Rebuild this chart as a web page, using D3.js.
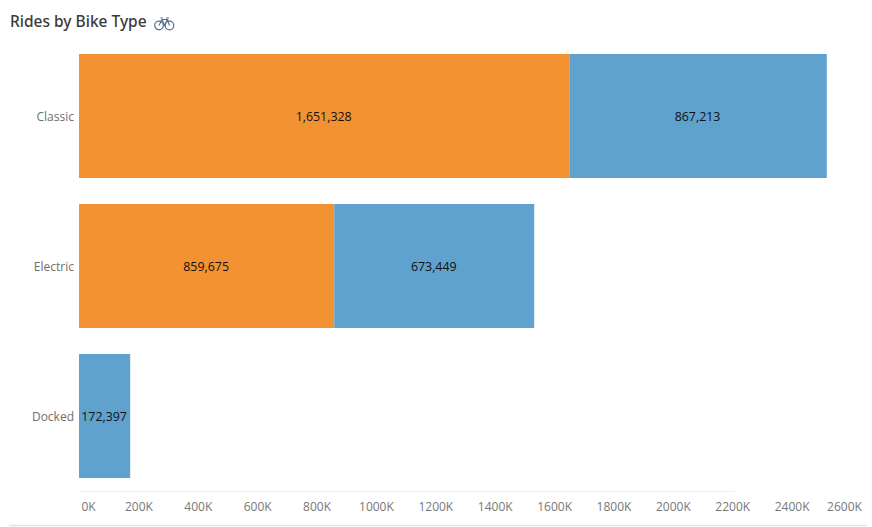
<!DOCTYPE html>
<html>
<head>
<meta charset="utf-8">
<script src="https://cdnjs.cloudflare.com/ajax/libs/d3/7.8.5/d3.min.js"></script>
<style>
  html, body { margin: 0; padding: 0; background: #fff; }
  text { font-family: "Open Sans", sans-serif; }
</style>
</head>
<body>
<script>
// values
var bikeTypes = ["Classic", "Electric", "Docked"];
var orangeRides = [1651328, 859675, 0];
var blueRides = [867213, 673449, 172397];
var xTicks = [0, 200000, 400000, 600000, 800000, 1000000, 1200000, 1400000, 1600000, 1800000, 2000000, 2200000, 2400000, 2600000];

var w = 872;
var h = 527;

var svg = d3.select("body").append("svg")
  .attr("width", w)
  .attr("height", h)
  .style("display", "block");

// 772px wide plot, 0 sits at x=79
var x = d3.scaleLinear().domain([0, 2600000]).range([79, 851]);
// bars are 124px tall, one every 150px
var y = d3.scaleBand().domain(bikeTypes).range([54, 478]).paddingInner(26 / 150).paddingOuter(0);

svg.append("text")
  .attr("x", 10)
  .attr("y", 27)
  .attr("font-size", 15.5)
  .attr("font-weight", 500)
  .attr("fill", "#3a3a3a")
  .style("font-family", "'Noto Sans', sans-serif")
  .text("Rides by Bike Type");

// bike icon next to the title
var bike = svg.append("g")
  .attr("transform", "translate(154, 17)")
  .attr("fill", "none")
  .attr("stroke", "#5b6f8f")
  .attr("stroke-width", 1.2);
bike.append("circle").attr("cx", 5).attr("cy", 8.5).attr("r", 4.3);
bike.append("circle").attr("cx", 15.5).attr("cy", 8.5).attr("r", 4.3);
bike.append("path").attr("d", "M5 8.5L8 2.5H13.5L15.5 8.5M8 2.5L10.5 8.5L13.5 2.5M6.5 1H9M12 1H15");

// bars
var rows = svg.append("g");
rows.selectAll("rect.orange")
  .data(bikeTypes)
  .enter()
  .append("rect")
  .attr("class", "orange")
  .attr("x", x(0))
  .attr("y", function(d) { return y(d); })
  .attr("width", function(d, i) { return x(orangeRides[i]) - x(0); })
  .attr("height", y.bandwidth())
  .attr("fill", "#f28e2b")
  .attr("fill-opacity", 0.97);

rows.selectAll("rect.blue")
  .data(bikeTypes)
  .enter()
  .append("rect")
  .attr("class", "blue")
  .attr("x", function(d, i) { return x(orangeRides[i]); })
  .attr("y", function(d) { return y(d); })
  .attr("width", function(d, i) { return x(blueRides[i]) - x(0); })
  .attr("height", y.bandwidth())
  .attr("fill", "#5fa2ce");

// value labels
var fmt = d3.format(",");
function barLabels(values, start) {
  rows.selectAll(null)
    .data(bikeTypes.filter(function(d, i) { return values[i] > 0; }))
    .enter()
    .append("text")
    .attr("x", function(d) {
      var i = bikeTypes.indexOf(d);
      return x(start[i] + values[i] / 2) - 0.5;
    })
    .attr("y", function(d) { return y(d) + y.bandwidth() / 2 + 4.5; })
    .attr("text-anchor", "middle")
    .attr("font-size", 12.4)
    .attr("fill", "#111")
    .text(function(d) { return fmt(values[bikeTypes.indexOf(d)]); });
}
barLabels(orangeRides, [0, 0, 0]);
barLabels(blueRides, orangeRides);

// category labels
var yAxis = svg.append("g")
  .attr("transform", "translate(79, 1)")
  .call(d3.axisLeft(y).tickSize(0).tickPadding(5));
yAxis.select(".domain").remove();
yAxis.selectAll("text")
  .attr("font-size", 12)
  .attr("fill", "#6e6e6e")
  .style("font-family", "'Open Sans', sans-serif");

// x axis, the two end labels get pushed inside the plot
var xAxis = svg.append("g")
  .attr("transform", "translate(0, 491)")
  .call(d3.axisBottom(x).tickValues(xTicks).tickSize(0).tickPadding(11)
    .tickFormat(function(d) { return (d / 1000) + "K"; }));
xAxis.select(".domain").remove();
xAxis.selectAll("text")
  .attr("font-size", 12)
  .attr("fill", "#777")
  .style("font-family", "'Open Sans', sans-serif")
  .attr("dx", function(d) {
    if (d === 0) return 9;
    if (d === 2600000) return -7;
    return 0;
  });

svg.append("line")
  .attr("x1", x(0)).attr("x2", x(2210000))
  .attr("y1", 491.5).attr("y2", 491.5)
  .attr("stroke", "#f1f1f1");

svg.append("line")
  .attr("x1", 9).attr("x2", 867)
  .attr("y1", 525.5).attr("y2", 525.5)
  .attr("stroke", "#e2e2e2")
  .attr("stroke-width", 1.5);
</script>
</body>
</html>
